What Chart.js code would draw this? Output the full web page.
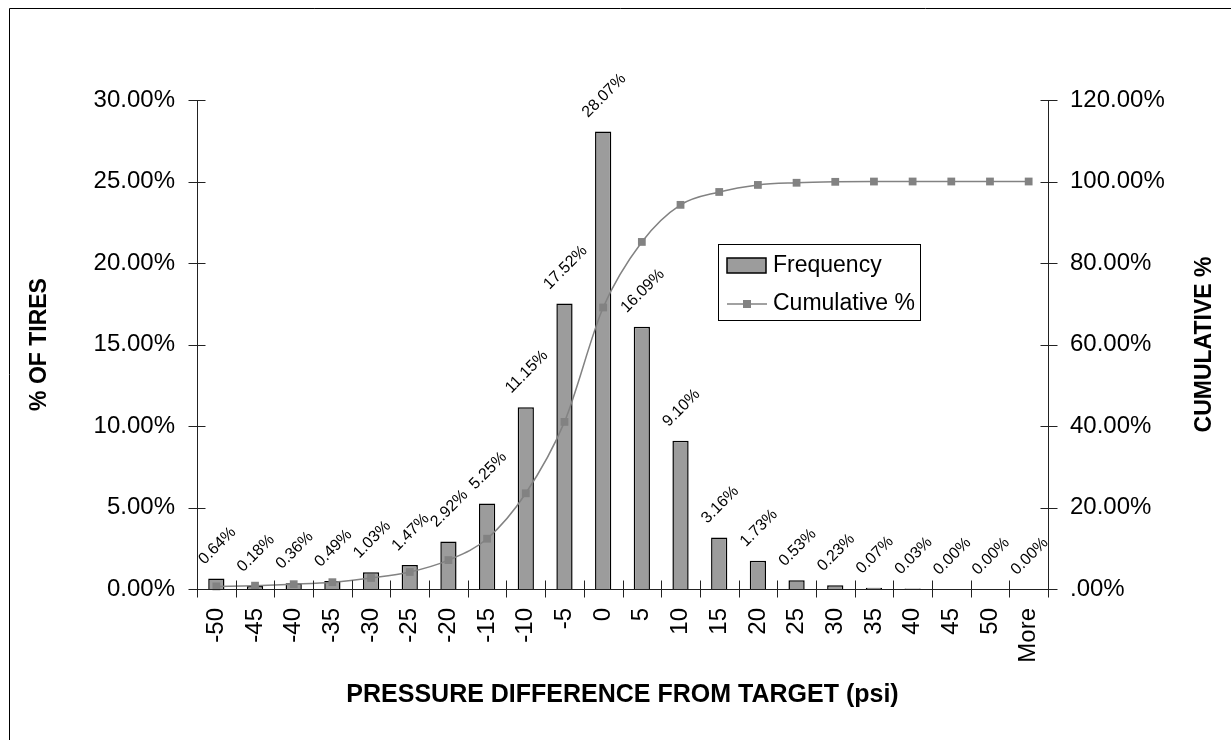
<!DOCTYPE html>
<html>
<head>
<meta charset="utf-8">
<script src="https://cdn.jsdelivr.net/npm/chart.js@4/dist/chart.umd.min.js"></script>
<style>
  html, body { margin: 0; padding: 0; background: #fff; }
  #wrap { position: relative; width: 1231px; height: 740px; }
</style>
</head>
<body>
<div id="wrap"><canvas id="chart"></canvas></div>
<script>
// Tire pressure histogram: bin labels, share of tires per bin, running total
const categories = ['-50', '-45', '-40', '-35', '-30', '-25', '-20', '-15', '-10', '-5',
  '0', '5', '10', '15', '20', '25', '30', '35', '40', '45', '50', 'More'];
const frequency = [0.64, 0.18, 0.36, 0.49, 1.03, 1.47, 2.92, 5.25, 11.15, 17.52,
  28.07, 16.09, 9.10, 3.16, 1.73, 0.53, 0.23, 0.07, 0.03, 0.00, 0.00, 0.00];
const cumulative = [0.64, 0.82, 1.18, 1.67, 2.70, 4.17, 7.09, 12.34, 23.49, 41.01,
  69.08, 85.17, 94.27, 97.43, 99.16, 99.69, 99.92, 99.99, 100.00, 100.00, 100.00, 100.00];
const leftTickLabels = ['0.00%', '5.00%', '10.00%', '15.00%', '20.00%', '25.00%', '30.00%'];
const rightTickLabels = ['.00%', '20.00%', '40.00%', '60.00%', '80.00%', '100.00%', '120.00%'];

const FONT = '"Liberation Sans", Arial, sans-serif';
const BAR_FILL = '#9c9c9c';
const LINE_GRAY = '#828282';

// Axis lines with cross ticks, value labels, legend box and axis titles
const decorations = {
  id: 'decorations',
  afterDatasetsDraw(chart) {
    const ctx = chart.ctx;
    const area = chart.chartArea;
    const x = chart.scales.x, y = chart.scales.y, y1 = chart.scales.y1;
    ctx.save();

    // frame edges
    ctx.strokeStyle = '#000';
    ctx.lineWidth = 1;
    ctx.beginPath();
    ctx.moveTo(9.5, 740); ctx.lineTo(9.5, 8.5); ctx.lineTo(1231, 8.5);
    ctx.stroke();

    // axes
    ctx.strokeStyle = '#222';
    ctx.beginPath();
    const L = Math.round(area.left) + 0.5, R = Math.round(area.right) + 0.5, B = Math.round(area.bottom) + 0.5;
    ctx.moveTo(L, Math.round(area.top)); ctx.lineTo(L, B);
    ctx.moveTo(R, Math.round(area.top)); ctx.lineTo(R, B);
    ctx.moveTo(L, B); ctx.lineTo(R, B);
    y.ticks.forEach(t => {
      const py = Math.round(y.getPixelForValue(t.value)) + 0.5;
      ctx.moveTo(L - 9, py); ctx.lineTo(L + 8, py);
    });
    y1.ticks.forEach(t => {
      const py = Math.round(y1.getPixelForValue(t.value)) + 0.5;
      ctx.moveTo(R - 8, py); ctx.lineTo(R + 9, py);
    });
    for (let i = 0; i <= categories.length; i++) {
      const px = Math.round(x.getPixelForValue(i - 0.5)) + 0.5;
      ctx.moveTo(px, B - 9); ctx.lineTo(px, B + 8);
    }
    ctx.stroke();

    // rotated value labels above bars
    const meta = chart.getDatasetMeta(0);
    ctx.fillStyle = '#000';
    ctx.font = '16px ' + FONT;
    ctx.textAlign = 'center';
    ctx.textBaseline = 'middle';
    meta.data.forEach((bar, i) => {
      const txt = frequency[i].toFixed(2) + '%';
      const w = ctx.measureText(txt).width;
      const half = (w + 16) * Math.SQRT1_2 / 2;
      const cx = bar.x + 1;
      const cy = bar.y - 11 - half;
      ctx.save();
      ctx.translate(cx, cy);
      ctx.rotate(-Math.PI / 4);
      ctx.fillText(txt, 0, 0);
      ctx.restore();
    });

    // legend
    ctx.fillStyle = '#fff';
    ctx.fillRect(718.5, 244.5, 202, 76);
    ctx.strokeStyle = '#000';
    ctx.lineWidth = 1;
    ctx.strokeRect(718.5, 244.5, 202, 76);
    ctx.fillStyle = BAR_FILL;
    ctx.fillRect(727, 258, 39, 15);
    ctx.lineWidth = 1.5;
    ctx.strokeRect(727, 258, 39, 15);
    ctx.strokeStyle = LINE_GRAY;
    ctx.lineWidth = 1.5;
    ctx.beginPath(); ctx.moveTo(727, 304); ctx.lineTo(767, 304); ctx.stroke();
    ctx.fillStyle = LINE_GRAY;
    ctx.fillRect(743, 300, 8, 8);
    ctx.fillStyle = '#000';
    ctx.font = '23px ' + FONT;
    ctx.textAlign = 'left';
    ctx.textBaseline = 'middle';
    ctx.fillText('Frequency', 773, 266);
    ctx.fillText('Cumulative %', 773, 304);

    // axis titles
    ctx.textAlign = 'center';
    ctx.font = 'bold 25px ' + FONT;
    ctx.fillText('PRESSURE DIFFERENCE FROM TARGET (psi)', (area.left + area.right) / 2, 695);
    ctx.font = 'bold 23px ' + FONT;
    ctx.save();
    ctx.translate(40, (area.top + area.bottom) / 2);
    ctx.rotate(-Math.PI / 2);
    ctx.fillText('% OF TIRES', 0, 0);
    ctx.restore();
    ctx.save();
    ctx.translate(1205, (area.top + area.bottom) / 2);
    ctx.rotate(-Math.PI / 2);
    ctx.fillText('CUMULATIVE %', 0, 0);
    ctx.restore();

    ctx.restore();
  }
};

new Chart(document.getElementById('chart'), {
  data: {
    labels: categories,
    datasets: [
      {
        type: 'bar',
        label: 'Frequency',
        data: frequency,
        yAxisID: 'y',
        backgroundColor: BAR_FILL,
        borderColor: '#000',
        borderWidth: 1.5,
        barPercentage: 0.42,
        categoryPercentage: 1,
        order: 2
      },
      {
        type: 'line',
        label: 'Cumulative %',
        data: cumulative,
        yAxisID: 'y1',
        borderColor: LINE_GRAY,
        borderWidth: 1.5,
        backgroundColor: LINE_GRAY,
        pointStyle: 'rect',
        pointRadius: 5.5,
        pointBorderWidth: 0,
        cubicInterpolationMode: 'monotone',
        clip: false,
        order: 1
      }
    ]
  },
  options: {
    responsive: true,
    maintainAspectRatio: false,
    animation: false,
    layout: { padding: { top: 100, left: 0, right: 0, bottom: 0 } },
    plugins: { legend: { display: false }, tooltip: { enabled: false } },
    scales: {
      x: {
        offset: true,
        grid: { display: false, drawTicks: false },
        border: { display: false },
        ticks: {
          autoSkip: false, minRotation: 90, maxRotation: 90,
          color: '#000', font: { family: FONT, size: 24 }, padding: 19
        },
        afterFit(s) { s.height = 151; }
      },
      y: {
        position: 'left', min: 0, max: 30,
        grid: { display: false, drawTicks: false },
        border: { display: false },
        ticks: {
          stepSize: 5, color: '#000', font: { family: FONT, size: 24 }, padding: 22,
          callback: (v, i) => leftTickLabels[i]
        },
        afterFit(s) { s.width = 197; }
      },
      y1: {
        position: 'right', min: 0, max: 120,
        grid: { display: false, drawTicks: false },
        border: { display: false },
        ticks: {
          stepSize: 20, color: '#000', font: { family: FONT, size: 24 }, padding: 22,
          callback: (v, i) => rightTickLabels[i]
        },
        afterFit(s) { s.width = 183; }
      }
    }
  },
  plugins: [decorations]
});
</script>
</body>
</html>
